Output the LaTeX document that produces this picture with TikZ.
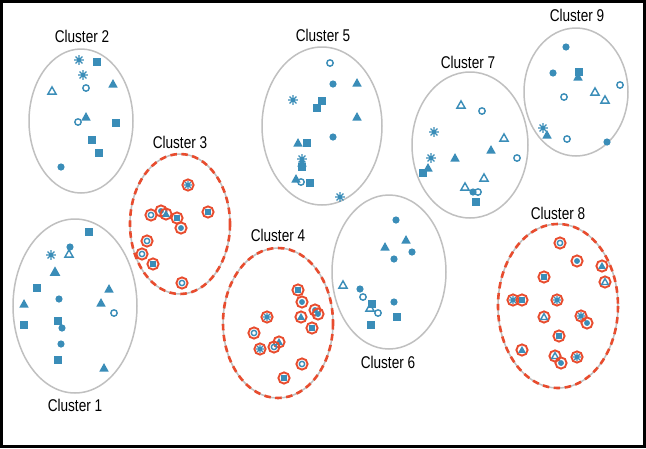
\documentclass[tikz,border=0pt]{standalone}
\usepackage{fontspec}
\setmainfont{Liberation Sans}
\definecolor{mb}{RGB}{58,141,184}
\definecolor{rd}{RGB}{232,76,46}
\definecolor{gr}{RGB}{192,192,192}
\begin{document}
\begin{tikzpicture}[x=1pt,y=-1pt,
  ell/.style={draw=gr,line width=1.5pt},
  rell/.style={draw=rd,line width=2.6pt,dash pattern=on 6.5pt off 4.5pt},
  ring/.style={draw=rd,line width=1.9pt},
  lab/.style={font=\fontsize{17}{17}\selectfont,xscale=0.8,inner sep=0pt},
  pics/mks/.style={code={\fill[mb] (-3.6,-3.6) rectangle (3.6,3.6);}},
  pics/mkc/.style={code={\fill[mb] (0,0) circle (3.6);}},
  pics/mko/.style={code={\draw[mb,line width=1.4pt] (0,0) circle (3.2);}},
  pics/mkt/.style={code={\fill[mb] (0,-4.9) -- (-4.7,3.5) -- (4.7,3.5) -- cycle;}},
  pics/mkT/.style={code={\draw[mb,line width=1.4pt,line join=miter] (0,-4.1) -- (-4.1,3.1) -- (4.1,3.1) -- cycle;}},
  pics/mka/.style={code={\draw[mb,line width=1.4pt] (-4.8,0)--(4.8,0) (0,-4.8)--(0,4.8) (-3.4,-3.4)--(3.4,3.4) (-3.4,3.4)--(3.4,-3.4);}}
]
\useasboundingbox (0,0) rectangle (646,448);
\fill[white] (0,0) rectangle (646,448);
\draw[line width=3pt] (1.5,1.5) rectangle (644.5,446.5);

% ellipses
\draw[ell] (75,306) ellipse [x radius=62, y radius=87];
\draw[ell] (81,121) ellipse [x radius=52, y radius=72];
\draw[ell] (180,224) ellipse [x radius=50, y radius=70];
\draw[rell] (180,224) ellipse [x radius=50, y radius=70];
\draw[ell] (278,323) ellipse [x radius=55, y radius=75];
\draw[rell] (278,323) ellipse [x radius=55, y radius=75];
\draw[ell] (322,126) ellipse [x radius=60, y radius=79];
\draw[ell] (389,272) ellipse [x radius=57, y radius=77];
\draw[ell] (470,145) ellipse [x radius=58, y radius=73];
\draw[ell] (558,306) ellipse [x radius=60, y radius=82];
\draw[rell] (558,306) ellipse [x radius=60, y radius=82];
\draw[ell] (576,92) ellipse [x radius=52, y radius=64];

% labels
\node[lab] (l1) at (75,405) {Cluster 1};
\node[lab] (l2) at (82,36) {Cluster 2};
\node[lab] (l3) at (180,142) {Cluster 3};
\node[lab] (l4) at (278,235) {Cluster 4};
\node[lab] (l5) at (323,35) {Cluster 5};
\node[lab] (l6) at (388,362) {Cluster 6};
\node[lab] (l7) at (468,62) {Cluster 7};
\node[lab] (l8) at (558,213) {Cluster 8};
\node[lab] (l9) at (577,15) {Cluster 9};

% plain clusters
\foreach \t/\x/\y in {
  s/89/232, c/70/247, T/69/254, a/51/255, t/55/272, T/55/272, s/37/288, t/109/289,
  t/24/304, c/59/299, t/101/303, o/114/313, s/24/325, s/58/321, c/62/328, c/61/344,
  s/58/360, t/104/368,
  a/79/60, s/97/62, a/83/75, o/86/88, t/113/84, T/52/91, o/78/122, t/86/117,
  s/116/123, s/92/140, s/99/153, c/61/167,
  o/330/63, c/333/84, t/357/83, a/293/100, s/322/101, s/317/108, t/357/117, c/333/137,
  t/298/143, s/307/143, a/302/159, t/302/163, s/302/167, t/296/179, o/301/182,
  s/310/183, a/340/197,
  c/396/220, t/406/240, t/385/247, c/412/252, c/394/259, T/343/285, c/360/289,
  o/363/297, c/394/302, s/372/304, T/370/308, o/378/313, s/397/317, s/371/325,
  T/461/105, o/482/111, a/434/132, T/504/138, t/491/150, o/517/158, a/431/158,
  t/455/158, s/423/173, t/428/168, T/484/178, T/465/187, c/473/192, o/478/192, s/476/202,
  c/566/47, c/553/73, s/579/72, t/578/77, o/620/85, o/564/97, T/595/92, T/605/100,
  a/543/128, t/547/135, o/567/139, c/607/142}
  {\pic at (\x,\y) {mk\t};}

% ringed clusters
\foreach \t/\x/\y in {
  a/188/185, o/151/215, c/161/211, t/166/214, s/177/218, c/181/228, s/208/212,
  o/147/241, o/142/254, s/153/264, o/182/283,
  s/298/290, c/302/302, c/315/310, c/318/314, t/301/317, s/312/328, a/267/317,
  o/254/333, t/279/342, o/274/347, a/260/349, o/302/364, s/284/378,
  o/560/243, c/577/261, t/602/266, T/605/282, s/544/277, a/513/300, s/522/300,
  a/557/300, T/544/317, a/581/316, c/587/323, s/559/336, t/522/350, T/555/356,
  c/561/363, a/577/357}
  {\draw[ring] (\x,\y) circle (5.6); \pic[scale=0.82] at (\x,\y) {mk\t};}
\end{tikzpicture}
\end{document}
